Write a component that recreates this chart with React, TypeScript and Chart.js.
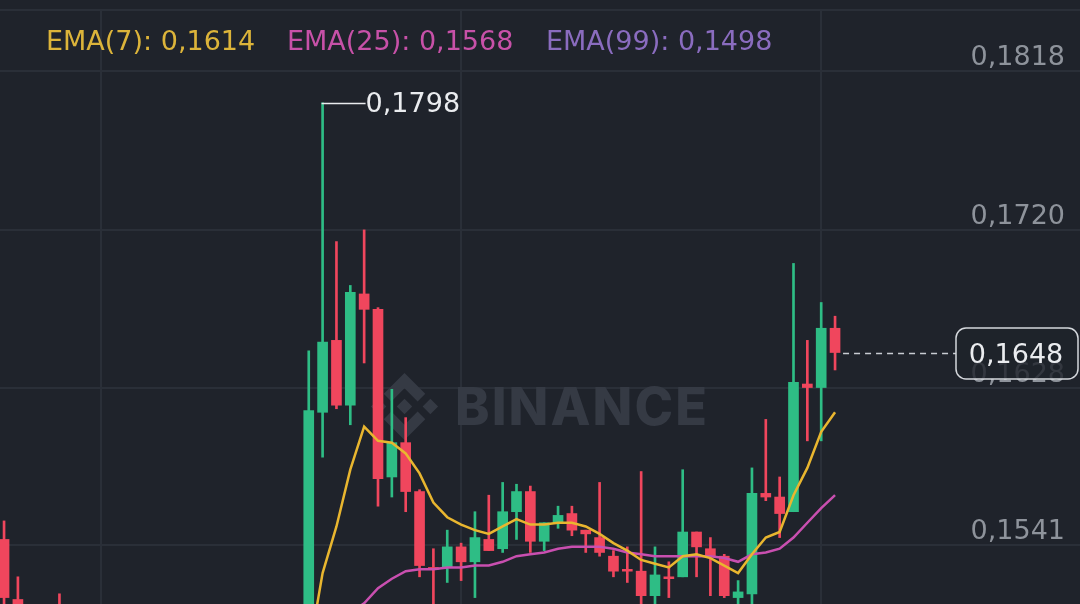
import React, { useEffect, useRef } from 'react';
import { Chart, registerables } from 'chart.js';

Chart.register(...registerables);

// ---- data (one entry per candle, left to right) ----
const opens = [
  0.1544, 0.1512, 0.1502, 0.1492, 0.1505, 0.1494, 0.1498, 0.1491, 0.1485, 0.1490,
  0.1487, 0.1480, 0.1484, 0.1488, 0.1483, 0.1479, 0.1482, 0.1486, 0.1481, 0.1478,
  0.1483, 0.1487, 0.1484, 0.1614, 0.1655, 0.1618, 0.1682, 0.1673, 0.1578, 0.1597,
  0.1570, 0.1529, 0.1529, 0.1540, 0.1532, 0.1544, 0.1539, 0.1559, 0.1570, 0.1543,
  0.1553, 0.1558, 0.1549, 0.1545, 0.1535, 0.1528, 0.1527, 0.1514, 0.1524, 0.1524,
  0.1548, 0.1539, 0.1535, 0.1513, 0.1515, 0.1569, 0.1567, 0.1559, 0.1630, 0.1628,
  0.1662,
];
const highs = [
  0.1554, 0.1524, 0.1506, 0.1500, 0.1515, 0.1503, 0.1505, 0.1497, 0.1494, 0.1499,
  0.1492, 0.1489, 0.1493, 0.1496, 0.1490, 0.1487, 0.1491, 0.1494, 0.1488, 0.1486,
  0.1492, 0.1495, 0.1649, 0.1798, 0.1713, 0.1687, 0.1720, 0.1674, 0.1627, 0.1611,
  0.1571, 0.1539, 0.1549, 0.1542, 0.1559, 0.1568, 0.1575, 0.1574, 0.1573, 0.1553,
  0.1562, 0.1562, 0.1549, 0.1575, 0.1538, 0.1540, 0.1581, 0.1540, 0.1532, 0.1582,
  0.1548, 0.1545, 0.1536, 0.1522, 0.1583, 0.1610, 0.1578, 0.1700, 0.1655, 0.1677,
  0.1669,
];
const lows = [
  0.1500, 0.1494, 0.1488, 0.1484, 0.1488, 0.1486, 0.1489, 0.1480, 0.1478, 0.1483,
  0.1476, 0.1474, 0.1479, 0.1481, 0.1475, 0.1472, 0.1477, 0.1480, 0.1473, 0.1471,
  0.1478, 0.1480, 0.1482, 0.1589, 0.1616, 0.1607, 0.1642, 0.1562, 0.1567, 0.1559,
  0.1524, 0.1507, 0.1521, 0.1522, 0.1513, 0.1538, 0.1537, 0.1544, 0.1537, 0.1538,
  0.1550, 0.1546, 0.1537, 0.1535, 0.1524, 0.1521, 0.1505, 0.1506, 0.1513, 0.1524,
  0.1524, 0.1514, 0.1513, 0.1505, 0.1506, 0.1565, 0.1545, 0.1559, 0.1598, 0.1598,
  0.1638,
];
const closes = [
  0.1513, 0.1502, 0.1492, 0.1496, 0.1494, 0.1498, 0.1491, 0.1485, 0.1490, 0.1487,
  0.1480, 0.1484, 0.1488, 0.1483, 0.1479, 0.1482, 0.1486, 0.1481, 0.1478, 0.1483,
  0.1487, 0.1484, 0.1615, 0.1654, 0.1618, 0.1683, 0.1673, 0.1577, 0.1597, 0.1570,
  0.1530, 0.1528, 0.1540, 0.1532, 0.1545, 0.1538, 0.1559, 0.1570, 0.1543, 0.1553,
  0.1557, 0.1549, 0.1547, 0.1537, 0.1527, 0.1527, 0.1514, 0.1525, 0.1523, 0.1548,
  0.1540, 0.1535, 0.1514, 0.1516, 0.1569, 0.1567, 0.1558, 0.1631, 0.1628, 0.1662,
  0.1648,
];
const ema7 = [
  0.1506, 0.1505, 0.1502, 0.1500, 0.1498, 0.1498, 0.1496, 0.1493, 0.1492, 0.1491,
  0.1488, 0.1487, 0.1487, 0.1486, 0.1484, 0.1484, 0.1484, 0.1484, 0.1482, 0.1482,
  0.1483, 0.1484, 0.1484, 0.1526, 0.1551, 0.1582, 0.1606, 0.1598, 0.1597, 0.1591,
  0.1580, 0.1564, 0.1556, 0.1552, 0.1549, 0.1547, 0.1551, 0.1555, 0.1552, 0.1552,
  0.1553, 0.1553, 0.1551, 0.1547, 0.1542, 0.1538, 0.1533, 0.1531, 0.1529, 0.1535,
  0.1536, 0.1534, 0.1530, 0.1526, 0.1536, 0.1545, 0.1548, 0.1568, 0.1583, 0.1603,
  0.1614,
];
const ema25 = [
  0.1499, 0.1499, 0.1498, 0.1498, 0.1497, 0.1497, 0.1496, 0.1495, 0.1494, 0.1494,
  0.1493, 0.1492, 0.1491, 0.1491, 0.1490, 0.1489, 0.1489, 0.1488, 0.1488, 0.1487,
  0.1487, 0.1487, 0.1486, 0.1492, 0.1498, 0.1505, 0.1510, 0.1518, 0.1523, 0.1527,
  0.1528, 0.1528, 0.1529, 0.1529, 0.1530, 0.1530, 0.1532, 0.1535, 0.1536, 0.1537,
  0.1539, 0.1540, 0.1540, 0.1540, 0.1539, 0.1537, 0.1536, 0.1535, 0.1535, 0.1535,
  0.1535, 0.1535, 0.1534, 0.1532, 0.1536, 0.1537, 0.1539, 0.1545, 0.1553, 0.1561,
  0.1568,
];
const ema99 = [
  0.1490, 0.1490, 0.1490, 0.1489, 0.1489, 0.1489, 0.1489, 0.1489, 0.1489, 0.1488,
  0.1488, 0.1488, 0.1488, 0.1488, 0.1488, 0.1488, 0.1487, 0.1487, 0.1487, 0.1487,
  0.1487, 0.1487, 0.1488, 0.1489, 0.1490, 0.1491, 0.1492, 0.1492, 0.1493, 0.1493,
  0.1493, 0.1493, 0.1494, 0.1494, 0.1494, 0.1494, 0.1494, 0.1494, 0.1495, 0.1495,
  0.1495, 0.1495, 0.1495, 0.1495, 0.1495, 0.1495, 0.1495, 0.1495, 0.1495, 0.1496,
  0.1496, 0.1496, 0.1496, 0.1496, 0.1496, 0.1496, 0.1497, 0.1497, 0.1497, 0.1498,
  0.1498,
];
const emaNames = ['EMA(7)', 'EMA(25)', 'EMA(99)'];
const priceTicks = [0.1818, 0.172, 0.1628, 0.1541];
const timeGridIndex = [7, 33, 59];
const watermarkText = 'BINANCE';

// ---- styles ----
const BG = '#1f232b';
const GRID = '#2a2f38';
const GREEN = '#2ebd85';
const RED = '#f0465d';
const YELLOW_LINE = '#e9b62f';
const PINK_LINE = '#c94fb0';
const PURPLE_LINE = '#8d6cc2';
const YELLOW_TXT = '#dcb43a';
const PINK_TXT = '#c751a8';
const PURPLE_TXT = '#8a6cbf';
const AXIS_TXT = '#8e939b';
const WHITE_TXT = '#eaecef';
const WATERMARK = '#353a44';
const FONT = '"DejaVu Sans", sans-serif';
const WM_FONT = 'Inter, "DejaVu Sans", sans-serif';

const fmt = (v: number) => v.toFixed(4).replace('.', ',');

export default function App() {
  const ref = useRef<HTMLCanvasElement>(null);

  useEffect(() => {
    document.body.style.margin = '0';
    document.body.style.background = BG;
    const canvas = ref.current;
    if (!canvas) return;

    const idx = closes.map((_, i) => i);
    const colors = idx.map((i) => (closes[i] >= opens[i] ? GREEN : RED));
    const last = closes.length - 1;

    const decor = {
      id: 'decor',
      beforeDraw(chart: any) {
        const { ctx, width, height } = chart;
        ctx.save();
        ctx.fillStyle = BG;
        ctx.fillRect(0, 0, width, height);
        ctx.restore();
      },
      beforeDatasetsDraw(chart: any) {
        const { ctx, width, height } = chart;
        const x = chart.scales.x;
        const y = chart.scales.y;
        ctx.save();
        ctx.strokeStyle = GRID;
        ctx.lineWidth = 2;
        // top panel separator
        ctx.beginPath();
        ctx.moveTo(0, 10);
        ctx.lineTo(width, 10);
        ctx.stroke();
        for (const v of priceTicks) {
          const py = Math.round(y.getPixelForValue(v));
          ctx.beginPath();
          ctx.moveTo(0, py);
          ctx.lineTo(width, py);
          ctx.stroke();
        }
        for (const i of timeGridIndex) {
          const px = Math.round(x.getPixelForValue(i));
          ctx.beginPath();
          ctx.moveTo(px, 10);
          ctx.lineTo(px, height);
          ctx.stroke();
        }
        // watermark logo (Binance mark geometry, unit radius R)
        ctx.fillStyle = WATERMARK;
        const cx = 404.5;
        const cy = 406.5;
        const R = 33.5;
        const P = (ux: number, uy: number) => [cx + ux * R, cy + uy * R];
        const poly = (pts: number[][]) => {
          pts.forEach((p, k) => {
            const [px, py] = P(p[0], p[1]);
            if (k === 0) ctx.moveTo(px, py);
            else ctx.lineTo(px, py);
          });
          ctx.closePath();
        };
        ctx.beginPath();
        const dd = 0.23;
        const side = 0.772;
        poly([[0, -dd], [dd, 0], [0, dd], [-dd, 0]]);
        poly([[-side, -dd], [-side + dd, 0], [-side, dd], [-side - dd, 0]]);
        poly([[side, -dd], [side + dd, 0], [side, dd], [side - dd, 0]]);
        for (const s of [-1, 1]) {
          poly([
            [0, -1 * s],
            [0.62, -0.38 * s],
            [0.392, -0.152 * s],
            [0, -0.544 * s],
            [-0.392, -0.152 * s],
            [-0.62, -0.38 * s],
          ]);
        }
        ctx.fill();
        ctx.font = `800 52px ${WM_FONT}`;
        ctx.textBaseline = 'alphabetic';
        ctx.textAlign = 'left';
        const w = ctx.measureText(watermarkText).width;
        const target = 252;
        const gap = (target - w) / (watermarkText.length - 1);
        try {
          (ctx as any).letterSpacing = `${gap}px`;
        } catch (e) {}
        ctx.fillText(watermarkText, 455, 425);
        try {
          (ctx as any).letterSpacing = '0px';
        } catch (e) {}
        ctx.restore();
      },
      afterDatasetsDraw(chart: any) {
        const { ctx, width } = chart;
        const x = chart.scales.x;
        const y = chart.scales.y;
        ctx.save();
        // price axis labels
        ctx.font = `400 27px ${FONT}`;
        ctx.textAlign = 'right';
        ctx.textBaseline = 'alphabetic';
        ctx.fillStyle = AXIS_TXT;
        for (const v of priceTicks) {
          const py = y.getPixelForValue(v);
          ctx.fillText(fmt(v), width - 15, py - 6);
        }
        // legend
        ctx.textAlign = 'left';
        const legendVals = [ema7[last], ema25[last], ema99[last]];
        const legendCols = [YELLOW_TXT, PINK_TXT, PURPLE_TXT];
        const legendX = [46, 287, 546];
        emaNames.forEach((n, k) => {
          ctx.fillStyle = legendCols[k];
          ctx.fillText(`${n}: ${fmt(legendVals[k])}`, legendX[k], 50);
        });
        // max annotation
        let mi = 0;
        highs.forEach((h, i) => {
          if (h > highs[mi]) mi = i;
        });
        const mx = x.getPixelForValue(mi);
        const my = Math.round(y.getPixelForValue(highs[mi])) + 0.5;
        ctx.strokeStyle = WHITE_TXT;
        ctx.lineWidth = 1.5;
        ctx.beginPath();
        ctx.moveTo(mx - 1, my);
        ctx.lineTo(mx + 43, my);
        ctx.stroke();
        ctx.fillStyle = WHITE_TXT;
        ctx.textBaseline = 'middle';
        ctx.fillText(fmt(highs[mi]), mx + 43, my + 1);
        // last price line and box
        const lx = x.getPixelForValue(last);
        const ly = Math.round(y.getPixelForValue(closes[last])) + 0.5;
        const boxL = 956;
        const boxR = width - 2;
        ctx.strokeStyle = '#c8ccd2';
        ctx.lineWidth = 1.5;
        ctx.setLineDash([6, 5]);
        ctx.beginPath();
        ctx.moveTo(lx + 8, ly);
        ctx.lineTo(boxL, ly);
        ctx.stroke();
        ctx.setLineDash([]);
        ctx.beginPath();
        (ctx as any).roundRect(boxL, ly - 25.5, boxR - boxL, 51, 10);
        ctx.fillStyle = 'rgba(31,35,43,0.82)';
        ctx.fill();
        ctx.strokeStyle = '#d4d7dc';
        ctx.lineWidth = 1.5;
        ctx.stroke();
        ctx.fillStyle = WHITE_TXT;
        ctx.textAlign = 'center';
        ctx.textBaseline = 'middle';
        ctx.fillText(fmt(closes[last]), (boxL + boxR) / 2 - 1, ly + 2);
        ctx.restore();
      },
    };

    const lineDs = (label: string, vals: number[], color: string) =>
      ({
        type: 'line',
        label,
        data: idx.map((i) => ({ x: i, y: vals[i] })),
        borderColor: color,
        borderWidth: 2.5,
        pointRadius: 0,
        tension: 0,
        order: 0,
      }) as any;

    const chart = new Chart(canvas, {
      type: 'bar',
      data: {
        datasets: [
          lineDs(emaNames[0], ema7, YELLOW_LINE),
          lineDs(emaNames[1], ema25, PINK_LINE),
          lineDs(emaNames[2], ema99, PURPLE_LINE),
          {
            type: 'bar',
            label: 'body',
            data: idx.map((i) => ({ x: i, y: [Math.min(opens[i], closes[i]), Math.max(opens[i], closes[i])] })),
            backgroundColor: colors,
            borderWidth: 0,
            borderSkipped: false,
            barThickness: 10,
            grouped: false,
            order: 1,
          } as any,
          {
            type: 'bar',
            label: 'wick',
            data: idx.map((i) => ({ x: i, y: [lows[i], highs[i]] })),
            backgroundColor: colors,
            borderWidth: 0,
            borderSkipped: false,
            barThickness: 2,
            grouped: false,
            order: 2,
          } as any,
        ],
      },
      options: {
        responsive: false,
        animation: false,
        events: [],
        layout: { padding: 0 },
        plugins: {
          legend: { display: false },
          tooltip: { enabled: false },
          title: { display: false },
        },
        scales: {
          x: { type: 'linear', display: false, offset: false, min: -0.2924, max: 77.686, bounds: 'data' },
          y: { type: 'logarithmic', display: false, min: 0.150962, max: 0.186358, bounds: 'data' },
        },
      } as any,
      plugins: [decor],
    });

    return () => chart.destroy();
  }, []);

  return (
    <div style={{ width: 1080, height: 604, background: BG }}>
      <canvas ref={ref} width={1080} height={604} style={{ display: 'block' }} />
    </div>
  );
}
